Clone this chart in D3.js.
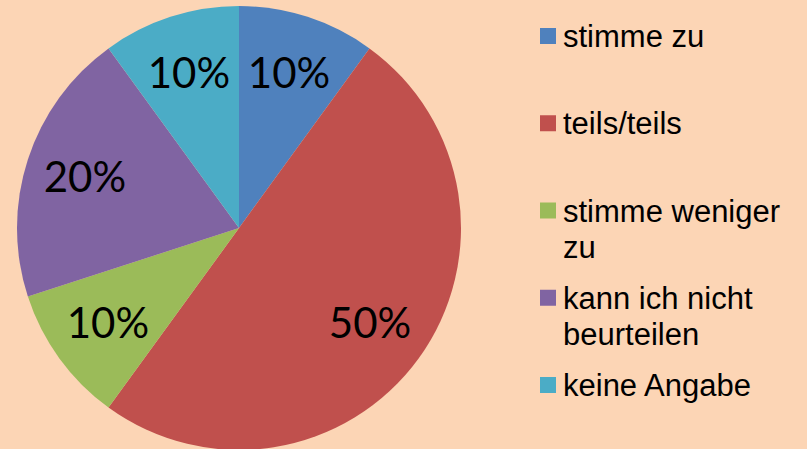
<!DOCTYPE html>
<html>
<head>
<meta charset="utf-8">
<script src="https://cdn.jsdelivr.net/npm/d3@7"></script>
<style>
    html, body { margin: 0; padding: 0; background: #FCD5B5; }
    svg { display: block; }
</style>
</head>
<body>
<svg id="chart"></svg>
<script>
// Chart data
const categories = ["stimme zu", "teils/teils", "stimme weniger zu", "kann ich nicht beurteilen", "keine Angabe"];
const values = [10, 50, 10, 20, 10];
const legendLines = [["stimme zu"], ["teils/teils"], ["stimme weniger", "zu"], ["kann ich nicht", "beurteilen"], ["keine Angabe"]];
const colors = ["#4F81BD", "#C0504D", "#9BBB59", "#8064A2", "#4BACC6"];

const width = 807;
const height = 449;

const svg = d3.select("#chart")
    .attr("width", width)
    .attr("height", height);

svg.append("rect")
    .attr("width", width)
    .attr("height", height)
    .attr("fill", "#FCD5B5");

// Pie
const cx = 239, cy = 228, radius = 222;
const g = svg.append("g").attr("transform", `translate(${cx},${cy})`);

const pie = d3.pie().sort(null).value(d => d);
const arcs = pie(values);

const arc = d3.arc().innerRadius(0).outerRadius(radius);
const labelArc = d3.arc().innerRadius(162).outerRadius(162);

g.selectAll("path.slice")
    .data(arcs)
    .enter()
    .append("path")
    .attr("class", "slice")
    .attr("d", arc)
    .attr("fill", (d, i) => colors[i]);

const total = d3.sum(values);
g.selectAll("text.pct")
    .data(arcs)
    .enter()
    .append("text")
    .attr("class", "pct")
    .attr("transform", d => `translate(${labelArc.centroid(d)})`)
    .attr("text-anchor", "middle")
    .attr("dy", "0.34em")
    .style("font-family", "Lato, 'Open Sans', sans-serif")
    .style("font-size", "42px")
    .style("fill", "#000")
    .text(d => Math.round(d.data / total * 100) + "%");

// Legend
const legendY = d3.scaleLinear()
    .domain([0, categories.length - 1])
    .range([47, 396]);

const legend = svg.append("g");

const items = legend.selectAll("g.item")
    .data(categories)
    .enter()
    .append("g")
    .attr("class", "item")
    .attr("transform", (d, i) => `translate(0,${legendY(i)})`);

items.append("rect")
    .attr("x", 540)
    .attr("y", -19)
    .attr("width", 16)
    .attr("height", 16)
    .attr("fill", (d, i) => colors[i]);

items.append("text")
    .attr("x", 563)
    .style("font-family", "'Liberation Sans', Arial, sans-serif")
    .style("font-size", "31px")
    .style("fill", "#000")
    .selectAll("tspan")
    .data((d, i) => legendLines[i])
    .enter()
    .append("tspan")
    .attr("x", 563)
    .attr("dy", (d, j) => j === 0 ? 0 : 36)
    .text(d => d);
</script>
</body>
</html>
